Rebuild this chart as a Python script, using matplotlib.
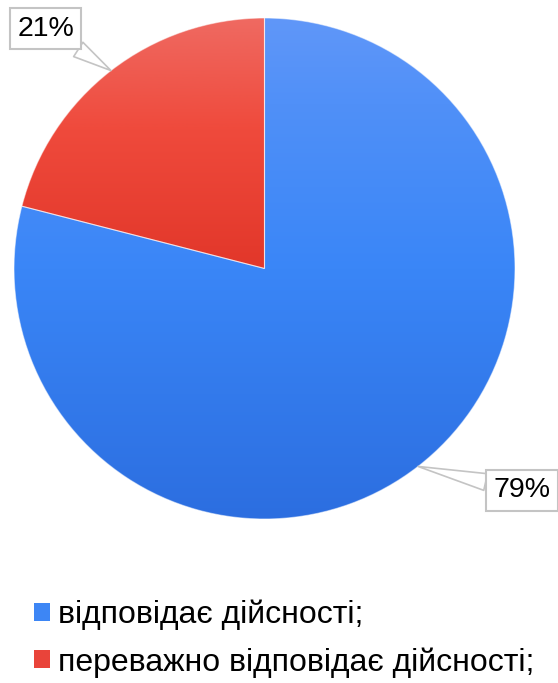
import matplotlib
matplotlib.use("Agg")
import matplotlib.pyplot as plt
import numpy as np
from matplotlib.colors import LinearSegmentedColormap
from matplotlib.patches import Patch

plt.rcParams["font.family"] = ["Liberation Sans", "DejaVu Sans"]

# Дані
labels = ["відповідає дійсності;", "переважно відповідає дійсності;"]
shares = [79, 21]
pct_text = ["79%", "21%"]
# кольори градієнта зверху вниз: (позиція, колір)
grad_colors = [
    [(0.0, "#6097f9"), (0.17, "#5090f8"), (0.5, "#3a86f7"), (1.0, "#2c6ee0")],
    [(0.0, "#ef6a62"), (0.45, "#ef4a3c"), (1.0, "#e2372a")],
]
legend_colors = ["#3d86f5", "#e9443a"]

W, H = 558, 683
fig = plt.figure(figsize=(W / 100, H / 100), dpi=100)
ax = fig.add_axes([0, 0, 1, 1])

cx, cy, r = 264.5, 414.5, 250.5
wedges, _ = ax.pie(shares, startangle=90, counterclock=False,
                   center=(cx, cy), radius=r, frame=True,
                   wedgeprops=dict(linewidth=0.8, edgecolor=(1, 1, 1, 0.5)))

grad = np.linspace(0, 1, 256).reshape(-1, 1)
for w, stops in zip(wedges, grad_colors):
    cmap = LinearSegmentedColormap.from_list("g", stops)
    verts = w.get_path().vertices
    ymin, ymax = verts[:, 1].min(), verts[:, 1].max()
    im = ax.imshow(grad, cmap=cmap, aspect="auto", origin="upper",
                   extent=(cx - r, cx + r, ymin, ymax), zorder=1)
    im.set_clip_path(w)
    w.set_facecolor("none")
    w.set_zorder(2)

# Підписи з виносками
offsets = [(104, -24), (-65, 42)]
for w, txt, off in zip(wedges, pct_text, offsets):
    ang = np.deg2rad((w.theta1 + w.theta2) / 2)
    tip = (cx + r * np.cos(ang), cy + r * np.sin(ang))
    ax.annotate(txt, xy=tip, xytext=off, textcoords="offset pixels",
                ha="center", va="center", fontsize=20.5, zorder=5,
                bbox=dict(boxstyle="square,pad=0.25", fc="white",
                          ec="#c4c4c4", lw=1.5),
                arrowprops=dict(arrowstyle="wedge,tail_width=0.6",
                                fc="white", ec="#c4c4c4", lw=1.2,
                                shrinkA=0, shrinkB=0))

handles = [Patch(facecolor=c, edgecolor="none") for c in legend_colors]
ax.legend(handles, labels, loc="upper left", bbox_to_anchor=(21 / W, 1 - 587 / H),
          frameon=False, fontsize=23, handlelength=0.5, handleheight=0.5,
          handletextpad=0.27, labelspacing=0.53, borderaxespad=0)

ax.set_xlim(0, W)
ax.set_ylim(0, H)
ax.set_aspect("auto")
ax.axis("off")

fig.savefig("out.png", dpi=100)
